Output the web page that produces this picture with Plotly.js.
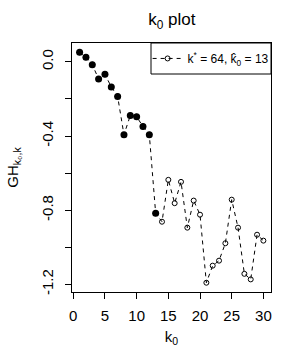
<!DOCTYPE html>
<html>
<head>
<meta charset="utf-8">
<script src="https://cdn.plot.ly/plotly-3.0.1.min.js"></script>
<style>html,body{margin:0;padding:0;background:#fff;}</style>
</head>
<body>
<div id="chart" style="width:300px;height:350px;"></div>
<script>
// k0 values
var k0 = [1,2,3,4,5,6,7,8,9,10,11,12,13,14,15,16,17,18,19,20,21,22,23,24,25,26,27,28,29,30];
// GH values
var gh = [0.052,0.025,-0.015,-0.092,-0.067,-0.135,-0.186,-0.393,-0.289,-0.296,-0.348,-0.393,-0.816,
          -0.862,-0.636,-0.762,-0.647,-0.894,-0.748,-0.824,-1.191,-1.099,-1.072,-0.978,-0.743,-0.894,-1.143,-1.173,-0.932,-0.964];
var k0hat = 13;
var kstar = 64;
var yTickVals = [0,-0.2,-0.4,-0.6,-0.8,-1.0,-1.2];
var yTickText = ['0.0','','-0.4','','-0.8','','-1.2'];
var xTickVals = [0,5,10,15,20,25,30];

var selK = k0.filter(function(k){return k<=k0hat;});
var selGH = gh.slice(0, selK.length);

var traces = [
  {x:k0, y:gh, type:'scatter', mode:'lines+markers',
   line:{color:'#000', width:1, dash:'4px,4px'},
   marker:{symbol:'circle-open', size:5, color:'#000', line:{width:1}},
   name:'k<sup>*</sup> = ' + kstar + ', k\u0302<sub>0</sub> = ' + k0hat,
   showlegend:true},
  {x:selK, y:selGH, type:'scatter', mode:'markers',
   marker:{symbol:'circle', size:7, color:'#000'},
   showlegend:false, hoverinfo:'skip'}
];

var font = {family:'"Liberation Sans", Arial, sans-serif', color:'#000'};
var layout = {
  width:300, height:350,
  margin:{l:72, r:29, t:43, b:58},
  paper_bgcolor:'#fff', plot_bgcolor:'#fff',
  font:Object.assign({size:15}, font),
  title:{text:'k<sub>0</sub> plot', x:0.573, xanchor:'center', y:0.945, yanchor:'middle',
         font:Object.assign({size:17}, font)},
  xaxis:{range:[-0.2,31.2], tickvals:xTickVals, ticks:'outside', ticklen:6, tickwidth:1, tickcolor:'#000',
         showgrid:false, zeroline:false, showline:true, linecolor:'#000', linewidth:1, mirror:true,
         tickfont:Object.assign({size:15}, font), ticklabelstandoff:4,
         title:{text:'k<sub>0</sub>', font:Object.assign({size:15}, font), standoff:8}},
  yaxis:{range:[-1.241,0.102], tickvals:yTickVals, ticktext:yTickText, ticks:'outside', ticklen:6, tickwidth:1, tickcolor:'#000',
         tickangle:-90, showgrid:false, zeroline:false, showline:true, linecolor:'#000', linewidth:1, mirror:true,
         tickfont:Object.assign({size:15}, font), ticklabelstandoff:6,
         title:{text:'GH<sub>k\u2080,k</sub>', font:Object.assign({size:15}, font), standoff:16}},
  legend:{x:0.38, y:0.938, xanchor:'left', yanchor:'middle', bgcolor:'rgba(0,0,0,0)', borderwidth:0,
          itemwidth:30, font:Object.assign({size:12}, font)},
  shapes:[{type:'rect', xref:'paper', yref:'paper', x0:0.397, x1:1, y0:0.8755, y1:1,
           line:{color:'#000', width:1}, fillcolor:'rgba(0,0,0,0)', layer:'above'}],
  showlegend:true
};
Plotly.newPlot('chart', traces, layout, {displayModeBar:false, staticPlot:true});
</script>
</body>
</html>
